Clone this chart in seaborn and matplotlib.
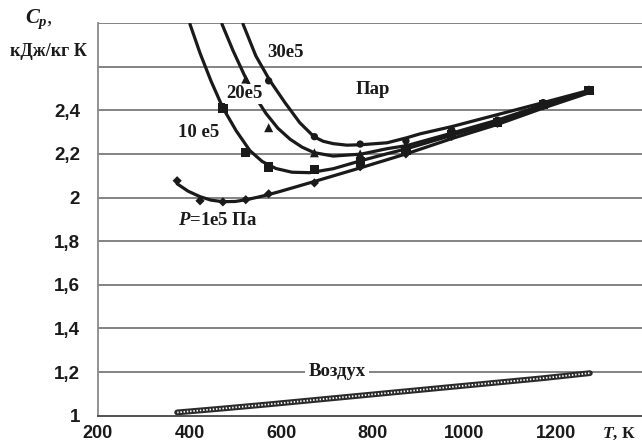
import numpy as np
import pandas as pd
import matplotlib
matplotlib.use("Agg")
import matplotlib.pyplot as plt
import seaborn as sns

# measured data points (markers)
t_1e5 = [373, 423, 473, 523, 573, 673, 773, 873, 973, 1073, 1173, 1273]
cp_1e5 = [2.077, 1.985, 1.98, 1.99, 2.017, 2.067, 2.141, 2.2, 2.28, 2.34, 2.42, 2.49]
t_10e5 = [473, 523, 573, 673, 773, 873, 973, 1073, 1173, 1273]
cp_10e5 = [2.41, 2.205, 2.14, 2.127, 2.165, 2.215, 2.29, 2.345, 2.425, 2.49]
t_20e5 = [523, 573, 673, 773, 873, 973, 1073, 1173, 1273]
cp_20e5 = [2.543, 2.32, 2.205, 2.2, 2.24, 2.3, 2.35, 2.43, 2.495]
t_30e5 = [573, 673, 773, 873, 973, 1073, 1173, 1273]
cp_30e5 = [2.535, 2.279, 2.245, 2.26, 2.31, 2.355, 2.435, 2.49]

# trend curves
ct_1e5 = [373, 397, 423, 447, 473, 500, 524, 548, 572, 598, 626, 672, 775, 875, 973, 1073, 1173, 1280]
cc_1e5 = [2.063, 2.029, 2.004, 1.988, 1.981, 1.982, 1.99, 2.001, 2.013, 2.028, 2.045, 2.073,
          2.137, 2.201, 2.27, 2.335, 2.41, 2.485]
ct_10e5 = [401, 423, 447, 473, 502, 532, 559, 589, 624, 663, 714, 775, 832, 875, 973, 1073, 1173, 1280]
cc_10e5 = [2.795, 2.662, 2.534, 2.411, 2.306, 2.215, 2.165, 2.133, 2.116, 2.114, 2.132, 2.169,
           2.201, 2.224, 2.285, 2.345, 2.42, 2.49]
ct_20e5 = [471, 495, 519, 543, 567, 593, 620, 646, 672, 714, 775, 832, 875, 973, 1073, 1173, 1280]
cc_20e5 = [2.795, 2.674, 2.565, 2.464, 2.386, 2.318, 2.267, 2.231, 2.206, 2.19, 2.199, 2.224,
           2.238, 2.295, 2.355, 2.425, 2.49]
ct_30e5 = [517, 545, 576, 609, 641, 672, 692, 714, 744, 775, 832, 875, 904, 973, 1073, 1173, 1280]
cc_30e5 = [2.795, 2.649, 2.535, 2.434, 2.343, 2.279, 2.258, 2.247, 2.24, 2.242, 2.251, 2.274,
           2.292, 2.325, 2.38, 2.435, 2.495]

# air
t_air = [373, 473, 573, 673, 773, 873, 973, 1073, 1173, 1275]
cp_air = [1.015, 1.033, 1.052, 1.072, 1.092, 1.112, 1.132, 1.152, 1.172, 1.195]

y_ticks = [1.0, 1.2, 1.4, 1.6, 1.8, 2.0, 2.2, 2.4, 2.6, 2.8]
y_labels = ["1", "1,2", "1,4", "1,6", "1,8", "2", "2,2", "2,4", "", ""]
x_ticks = [200, 400, 600, 800, 1000, 1200]

sns.set_style("white")
plt.rcParams["font.family"] = ["Liberation Sans", "DejaVu Sans"]
plt.rcParams["mathtext.fontset"] = "custom"
plt.rcParams["mathtext.rm"] = "Liberation Serif:bold"
plt.rcParams["mathtext.it"] = "Liberation Serif:italic:bold"

fig = plt.figure(figsize=(6.42, 4.45), dpi=100)
ax = fig.add_axes([98 / 642, 29.3 / 445, 1 - 98 / 642, 392.7 / 445])

for yv in y_ticks[1:]:
    ax.axhline(yv, color="#6e6e6e", lw=1.2, zorder=1)

curves = [(ct_1e5, cc_1e5), (ct_10e5, cc_10e5), (ct_20e5, cc_20e5), (ct_30e5, cc_30e5)]
for tt, cc in curves:
    sns.lineplot(x=tt, y=cc, ax=ax, color="#1a1a1a", lw=2.3, sort=False,
                 estimator=None, zorder=3)

pts = [(t_1e5, cp_1e5, "D", 22), (t_10e5, cp_10e5, "s", 44),
       (t_20e5, cp_20e5, "^", 42), (t_30e5, cp_30e5, "o", 28)]
for tt, cc, mk, sz in pts:
    sns.scatterplot(x=tt, y=cc, ax=ax, marker=mk, s=sz, color="#1a1a1a",
                    edgecolor="none", zorder=4)

sns.lineplot(x=t_air, y=cp_air, ax=ax, color="#2a2a2a", lw=4.2, zorder=3)
sns.lineplot(x=t_air, y=cp_air, ax=ax, color="white", lw=1.3,
             linestyle=(0, (0.8, 1.0)), zorder=3.5)

ax.set_xlim(200, 1389)
ax.set_ylim(1.0, 2.8)
ax.set_xticks(x_ticks)
ax.set_xticklabels([str(v) for v in x_ticks])
ax.set_yticks(y_ticks)
ax.set_yticklabels(y_labels)
ax.tick_params(axis="both", labelsize=13.5, length=5, width=1.2,
               color="#555555", direction="out")
ax.tick_params(axis="x", pad=2, labelsize=13)
ax.tick_params(axis="y", pad=8)
for lab in ax.get_xticklabels() + ax.get_yticklabels():
    lab.set_fontweight("bold")
    lab.set_color("#1a1a1a")

for side in ["top", "right"]:
    ax.spines[side].set_visible(False)
ax.spines["left"].set_color("#8a8a8a")
ax.spines["left"].set_linewidth(1.3)
ax.spines["bottom"].set_color("#444444")
ax.spines["bottom"].set_linewidth(1.3)
ax.set_xlabel("")
ax.set_ylabel("")

serif = dict(family="Liberation Serif", fontweight="bold", fontsize=13.5,
             color="#1a1a1a", ha="center", va="center", zorder=6)
wbox = dict(facecolor="white", edgecolor="none", pad=1.0)
ax.text(609, 2.663, "30e5", **serif)
ax.text(521, 2.475, "20e5", bbox=wbox, **serif)
ax.text(421, 2.30, "10 e5", **serif)
ax.text(462, 1.895, r"$P$=1e5 Па", **serif)
ax.text(801, 2.493, "Пар", **serif)
ax.text(722, 1.204, "Воздух", bbox=dict(facecolor="white", edgecolor="none", pad=2.5), **serif)

fig.text(39 / 642, 1 - 19 / 445, r"$C_p$,", family="Liberation Serif",
         fontsize=15, color="#1a1a1a", ha="center", va="center")
fig.text(48 / 642, 1 - 51 / 445, "кДж/кг К", family="Liberation Serif",
         fontweight="bold", fontsize=13, color="#1a1a1a", ha="center", va="center")
fig.text(619 / 642, 1 - 434 / 445, r"$T$, К", family="Liberation Serif",
         fontweight="bold", fontsize=12.5, color="#1a1a1a", ha="center", va="center")

fig.savefig("out.png", dpi=100)
